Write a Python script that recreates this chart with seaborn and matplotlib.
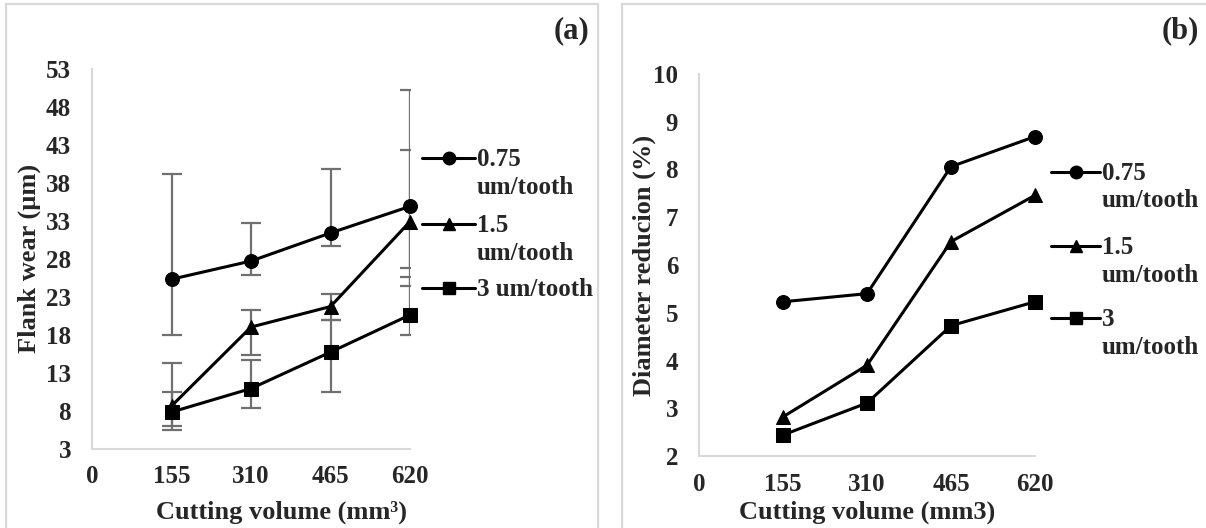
import numpy as np
import pandas as pd
import matplotlib
matplotlib.use("Agg")
import matplotlib.pyplot as plt
import seaborn as sns
from matplotlib.patches import Rectangle

# data
volume = [155, 310, 465, 620]
x_ticks = [0, 155, 310, 465, 620]
feeds = ["0.75 um/tooth", "1.5 um/tooth", "3 um/tooth"]

wear_075 = [25.3, 27.7, 31.4, 34.9]
wear_15 = [8.6, 19.0, 21.7, 32.9]
wear_3 = [7.8, 10.9, 15.7, 20.6]

# error bar ends (upper / lower), asymmetric as drawn in the figure
wear_075_hi = [39.2, 32.7, 39.8, 50.2]
wear_075_lo = [17.9, 25.9, 29.7, 26.8]
wear_15_hi = [14.3, 21.3, 23.4, 42.3]
wear_15_lo = [6.0, 15.3, 19.9, 24.4]
wear_3_hi = [10.5, 14.7, 19.9, 25.6]
wear_3_lo = [5.5, 8.4, 10.4, 18.0]

dred_075 = [5.23, 5.40, 8.06, 8.69]
dred_15 = [2.82, 3.90, 6.49, 7.46]
dred_3 = [2.44, 3.11, 4.73, 5.23]

sns.set_style("white")
plt.rcParams["font.family"] = ["Liberation Serif", "DejaVu Serif"]
plt.rcParams["font.weight"] = "bold"

W, H = 1206, 528
fig = plt.figure(figsize=(W / 100, H / 100), dpi=100)


def fx(x):
    return x / W


def fy(y):
    return 1 - y / H


# panel frames
fig.patches.append(Rectangle((fx(6), fy(530)), fx(592), fy(4) - fy(530),
                             transform=fig.transFigure, fill=False,
                             edgecolor="#d9d9d9", lw=1.6))
fig.patches.append(Rectangle((fx(622), fy(530)), fx(600), fy(4) - fy(530),
                             transform=fig.transFigure, fill=False,
                             edgecolor="#d9d9d9", lw=1.6))

ax1 = fig.add_axes([fx(92), fy(448.5), fx(410) - fx(92), fy(69) - fy(448.5)])
ax2 = fig.add_axes([fx(699), fy(456), fx(1035) - fx(699), fy(74) - fy(456)])

markers = ["o", "^", "s"]

df_a = pd.DataFrame({
    "volume": volume * 3,
    "value": wear_075 + wear_15 + wear_3,
    "feed": np.repeat(feeds, 4),
})
df_b = pd.DataFrame({
    "volume": volume * 3,
    "value": dred_075 + dred_15 + dred_3,
    "feed": np.repeat(feeds, 4),
})

# error bars behind the lines
for vals, hi, lo in [(wear_075, wear_075_hi, wear_075_lo),
                     (wear_15, wear_15_hi, wear_15_lo),
                     (wear_3, wear_3_hi, wear_3_lo)]:
    vals = np.array(vals)
    err = [vals - np.array(lo), np.array(hi) - vals]
    ax1.errorbar(volume, vals, yerr=err, fmt="none", ecolor="#707070",
                 elinewidth=1.6, capsize=7, capthick=1.6, zorder=1)

for ax, df in [(ax1, df_a), (ax2, df_b)]:
    sns.lineplot(data=df, x="volume", y="value", style="feed",
                 style_order=feeds, markers=markers, dashes=False,
                 color="black", lw=2.2, markersize=10, markeredgecolor="black",
                 legend=False, ax=ax, zorder=3, clip_on=False)

for ax in (ax1, ax2):
    ax.set_xlim(0, 620)
    ax.set_xticks(x_ticks)
    ax.tick_params(length=0, labelsize=18)
    ax.tick_params(axis="x", pad=12)
    ax.tick_params(axis="y", pad=15)
    for lab in ax.get_xticklabels() + ax.get_yticklabels():
        lab.set_fontweight("bold")
    for side in ["top", "right"]:
        ax.spines[side].set_visible(False)
    for side in ["left", "bottom"]:
        ax.spines[side].set_color("#d9d9d9")
        ax.spines[side].set_linewidth(1.5)

ax1.set_ylim(3, 53)
ax1.set_yticks(np.arange(3, 54, 5))
ax2.set_ylim(2, 10)
ax2.set_yticks(np.arange(2, 11, 1))

ax1.set_xlabel("Cutting volume (mm³)", fontsize=19, fontweight="bold")
ax1.set_ylabel("Flank wear (µm)", fontsize=19, fontweight="bold")
ax2.set_xlabel("Cutting volume (mm3)", fontsize=19, fontweight="bold")
ax2.set_ylabel("Diameter reducion (%)", fontsize=19, fontweight="bold")
for ax in (ax1, ax2):
    ax.xaxis.label.set_va("center")
    ax.yaxis.label.set_va("center")
ax1.xaxis.set_label_coords(0.597, -0.167)
ax1.yaxis.set_label_coords(-0.198, 0.5)
ax2.xaxis.set_label_coords(0.5, -0.147)
ax2.yaxis.set_label_coords(-0.164, 0.5)

fig.text(fx(589), fy(31), "(a)", fontsize=22, fontweight="bold",
         ha="right", va="center")
fig.text(fx(1199), fy(31), "(b)", fontsize=22, fontweight="bold",
         ha="right", va="center")

# hand-built legends (handle aligned with first text line)
legend_a = [(158, ["0.75", "um/tooth"]), (224, ["1.5", "um/tooth"]),
            (288, ["3 um/tooth"])]
legend_b = [(172, ["0.75", "um/tooth"]), (246, ["1.5", "um/tooth"]),
            (318, ["3", "um/tooth"])]
for ax, entries, x0, x1, tx in [(ax1, legend_a, 422, 475, 477),
                                (ax2, legend_b, 1051, 1100, 1102)]:
    for (y, lines), m in zip(entries, markers):
        ax.plot([fx(x0), fx((x0 + x1) / 2), fx(x1)], [fy(y)] * 3,
                transform=fig.transFigure, color="black", lw=2.2,
                marker=m, markevery=[1], markersize=9, clip_on=False)
        for i, t in enumerate(lines):
            fig.text(fx(tx), fy(y + 1 + 28 * i), t, fontsize=18,
                     fontweight="bold", ha="left", va="center")

fig.savefig("out.png", dpi=100)
